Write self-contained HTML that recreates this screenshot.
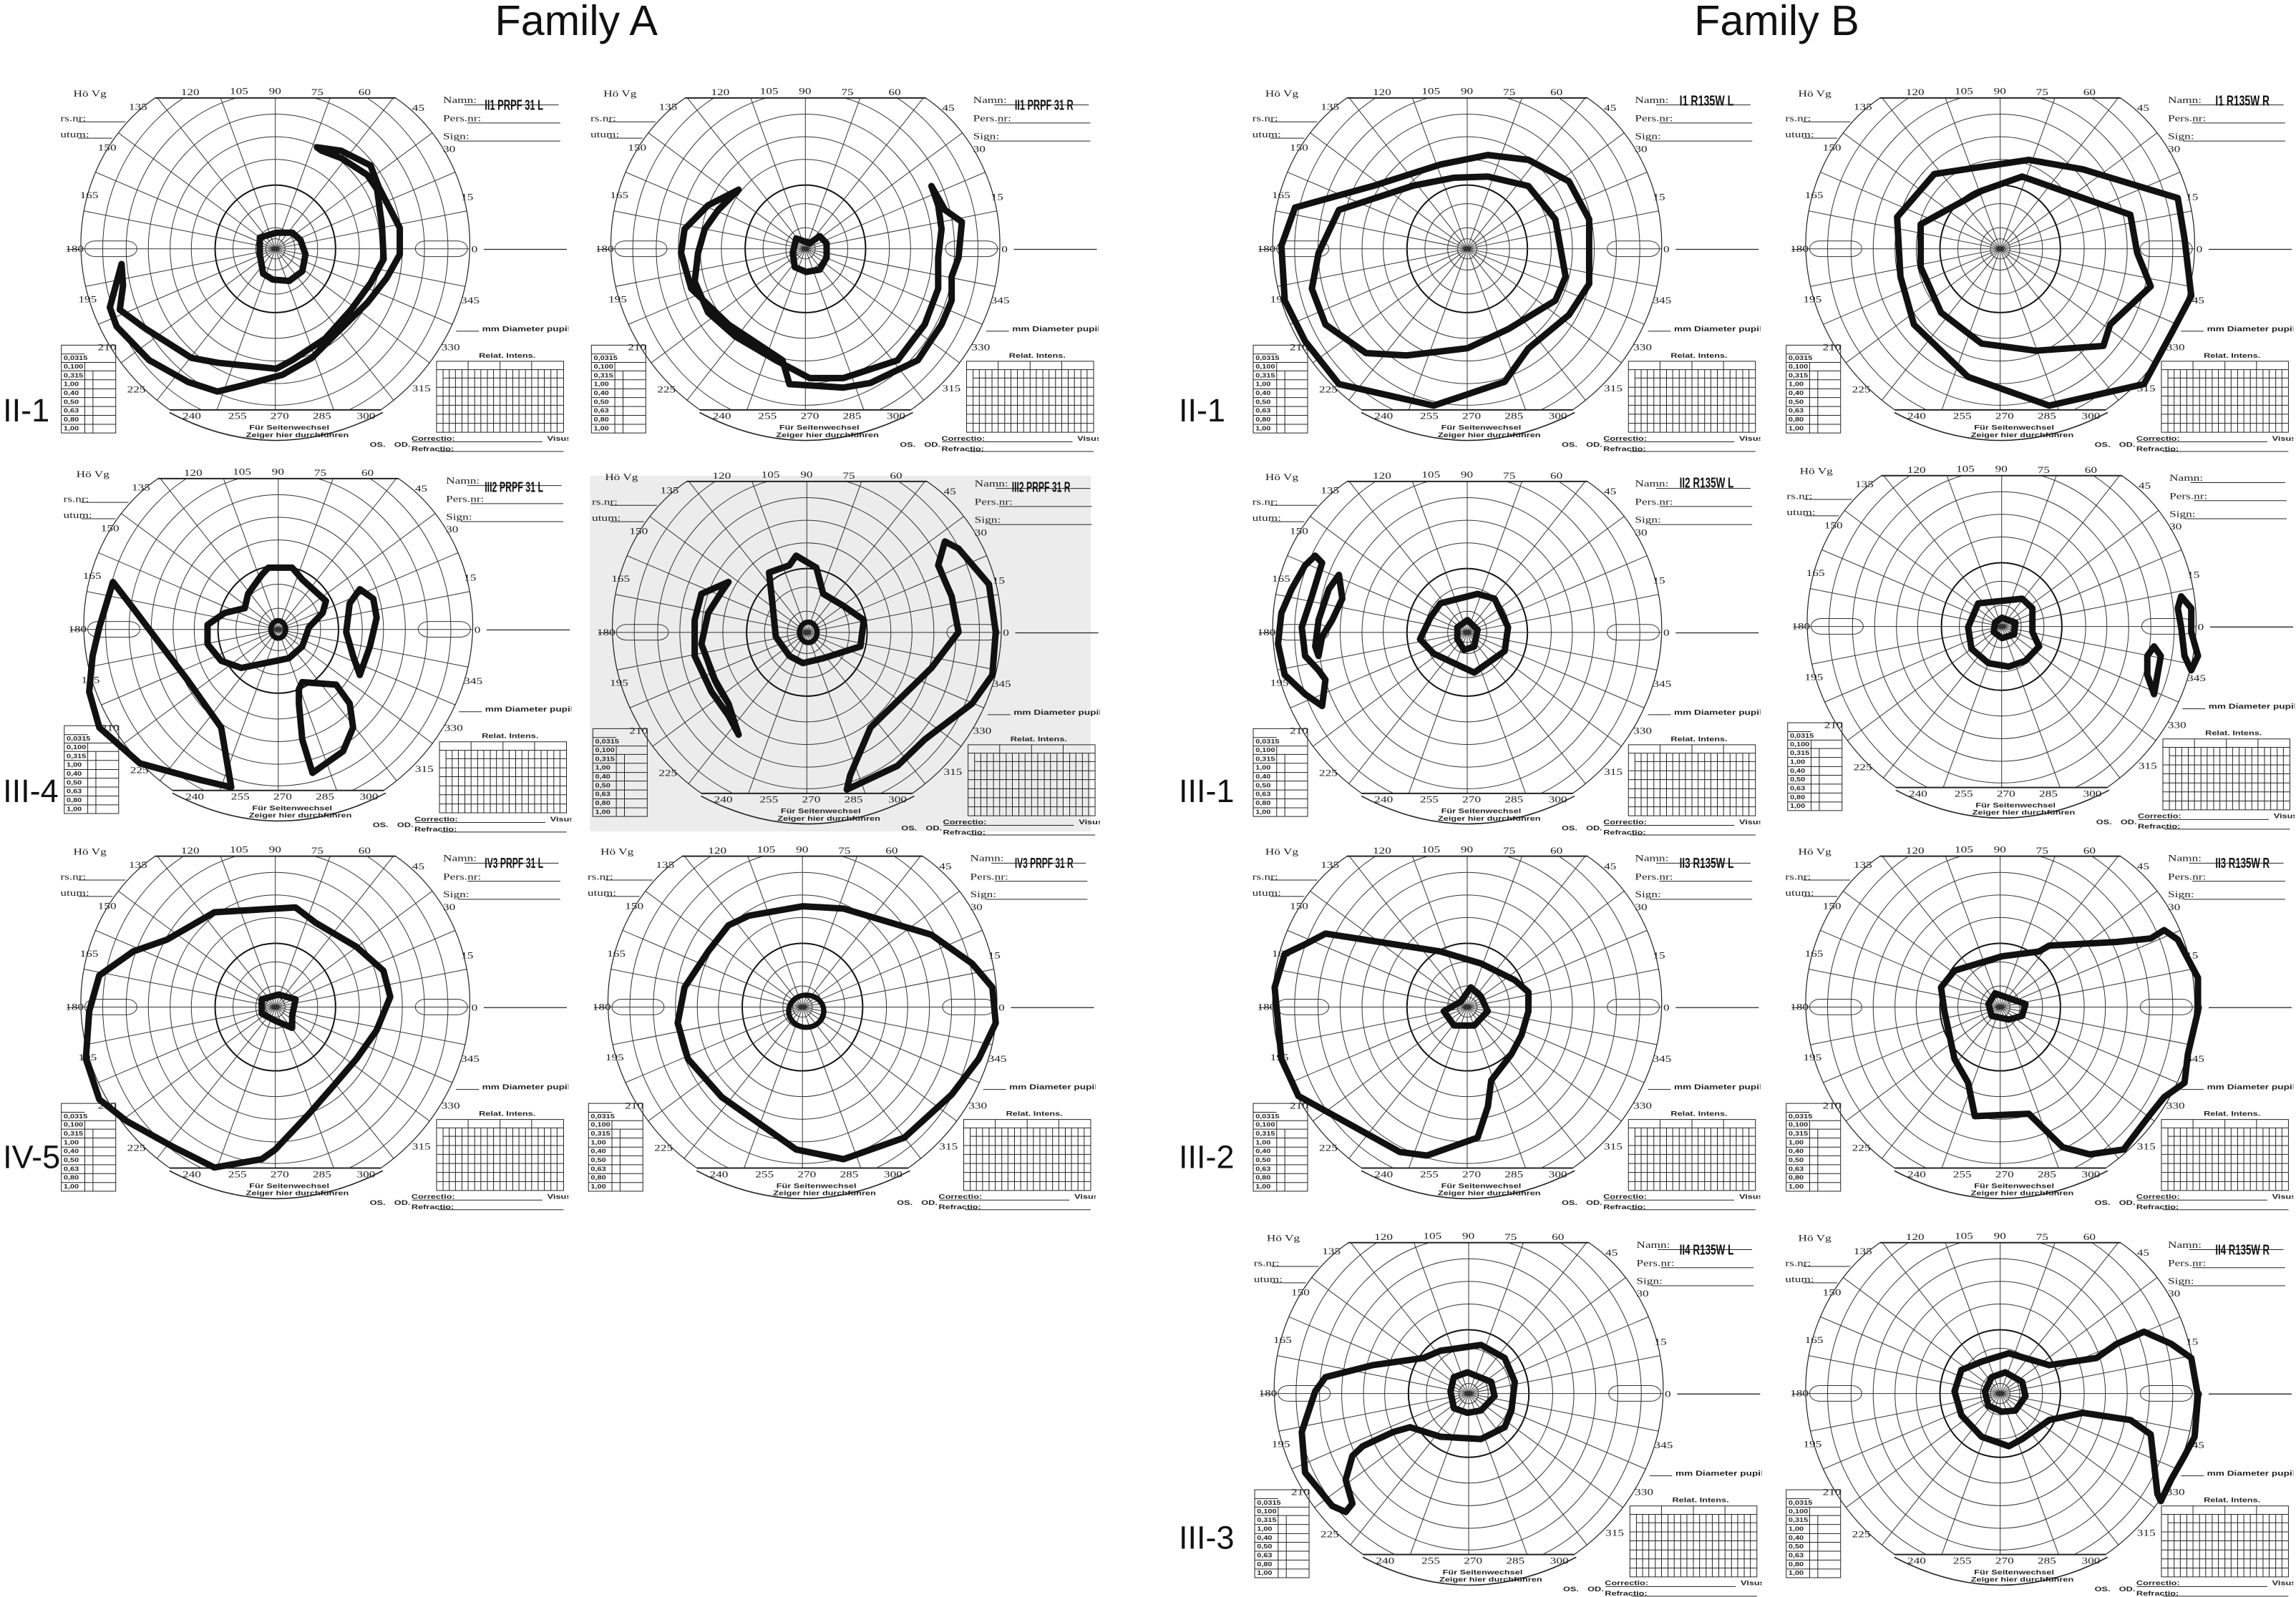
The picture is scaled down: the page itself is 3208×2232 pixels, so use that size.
<!DOCTYPE html>
<html><head><meta charset="utf-8">
<style>
html,body{margin:0;padding:0;background:#fff;}
svg{display:block;}
#g *{vector-effect:non-scaling-stroke;}
.t{font-family:"Liberation Serif",serif;fill:#222;}
.s{font-family:"Liberation Sans",sans-serif;fill:#222;}
.c{fill:none;stroke:#111;stroke-width:4.4;stroke-linejoin:round;stroke-linecap:round;}
.r{fill:none;stroke:#111;stroke-width:3.6;}
.lab{font-family:"Liberation Sans",sans-serif;font-size:22px;fill:#111;}
.fam{font-family:"Liberation Sans",sans-serif;font-size:29px;fill:#111;}
</style></head><body>
<svg width="3208" height="2232" viewBox="0 0 1568 1091" xmlns="http://www.w3.org/2000/svg">
<defs>
<clipPath id="cl"><path d="M291,61 L1029,61 C1180,200 1262,450 1257,688 C1252,950 1150,1200 984,1357 L336,1357 C170,1200 68,950 63,688 C58,450 140,200 291,61 Z"/></clipPath>
<g id="g">
 <g clip-path="url(#cl)" fill="none" stroke="#333" stroke-width="1">
  <ellipse cx="660" cy="688" rx="30" ry="42"/>
  <ellipse cx="660" cy="688" rx="60" ry="88"/>
  <ellipse cx="660" cy="688" rx="130" ry="188"/>
  <ellipse cx="660" cy="688" rx="258" ry="372"/>
  <ellipse cx="660" cy="688" rx="323" ry="466"/>
  <ellipse cx="660" cy="688" rx="390" ry="560"/>
  <ellipse cx="660" cy="688" rx="458" ry="650"/>
  <ellipse cx="660" cy="688" rx="530" ry="740"/>
  <ellipse cx="660" cy="688" rx="185" ry="265" stroke="#111" stroke-width="2"/>
  <path d="M660,688 L1660,688 M660,688 L1626,429 M660,688 L1526,188 M660,688 L1367,-19 M660,688 L1160,-178 M660,688 L919,-278 M660,688 L660,-312 M660,688 L401,-278 M660,688 L160,-178 M660,688 L-47,-19 M660,688 L-206,188 M660,688 L-306,429 M660,688 L-340,688 M660,688 L-306,947 M660,688 L-206,1188 M660,688 L-47,1395 M660,688 L160,1554 M660,688 L401,1654 M660,688 L660,1688 M660,688 L919,1654 M660,688 L1160,1554 M660,688 L1367,1395 M660,688 L1526,1188 M660,688 L1626,947"/>
 </g>
 <path d="M291,61 L1029,61 C1180,200 1262,450 1257,688 C1252,950 1150,1200 984,1357 L336,1357 C170,1200 68,950 63,688 C58,450 140,200 291,61 Z" fill="none" stroke="#222" stroke-width="1.2"/>
 <path d="M291,61 L1029,61 M336,1357 L984,1357" stroke="#222" stroke-width="2"/>
 <rect x="75" y="655" width="160" height="65" rx="32" fill="none" stroke="#333" stroke-width="1"/>
 <rect x="1090" y="655" width="160" height="65" rx="32" fill="none" stroke="#333" stroke-width="1"/>
 <line x1="20" y1="690" x2="60" y2="690" stroke="#222" stroke-width="1"/>
 <line x1="1300" y1="690" x2="1555" y2="690" stroke="#222" stroke-width="1.3"/>
 <g class="t" font-size="38">
  <text x="15" y="700">180</text><text x="1262" y="702">0</text>
  <text x="370" y="50">120</text><text x="520" y="45">105</text><text x="640" y="45">90</text><text x="770" y="50">75</text><text x="915" y="50">60</text>
  <text x="210" y="110">135</text><text x="1080" y="115">45</text>
  <text x="115" y="280">150</text><text x="1175" y="285">30</text>
  <text x="60" y="478">165</text><text x="1230" y="485">15</text>
  <text x="55" y="910">195</text><text x="1230" y="915">345</text>
  <text x="115" y="1110">210</text><text x="1170" y="1110">330</text>
  <text x="205" y="1285">225</text><text x="1080" y="1280">315</text>
  <text x="375" y="1395">240</text><text x="515" y="1395">255</text><text x="645" y="1395">270</text><text x="775" y="1395">285</text><text x="910" y="1395">300</text>
  <text x="40" y="55">Hö   Vg</text>
  <text x="0" y="158">rs.nr:</text><text x="0" y="225">utum:</text>
  <text x="1175" y="82">Namn:</text><text x="1175" y="158">Pers.nr:</text><text x="1175" y="232">Sign:</text>
 </g>
 <g stroke="#222" stroke-width="1">
  <line x1="55" y1="160" x2="200" y2="160"/><line x1="55" y1="228" x2="160" y2="228"/>
  <line x1="1240" y1="90" x2="1530" y2="90"/><line x1="1250" y1="165" x2="1535" y2="165"/><line x1="1222" y1="240" x2="1535" y2="240"/>
  <line x1="1215" y1="1030" x2="1285" y2="1030"/>
 </g>
 <text class="s" x="1295" y="1030" font-size="30" font-weight="bold">mm    Diameter pupillae</text>
 <g fill="none" stroke="#222" stroke-width="1">
  <rect x="3" y="1088" width="167" height="365"/>
  <path d="M3,1125H75M3,1160H170M3,1195H170M3,1232H170M3,1270H170M3,1306H170M3,1343H170M3,1380H170M3,1417H170M75,1160V1453M100,1195V1453"/>
  <rect x="1155" y="1155" width="390" height="295"/>
  <path d="M1155,1190H1545M1175,1225H1545M1155,1263H1545M1155,1300H1545M1155,1338H1545M1155,1375H1545M1155,1413H1545M1175,1190V1450M1252,1155V1450M1350,1155V1450M1447,1155V1450M1194,1190V1450M1213,1190V1450M1233,1190V1450M1272,1190V1450M1291,1190V1450M1311,1190V1450M1330,1190V1450M1369,1190V1450M1389,1190V1450M1408,1190V1450M1428,1190V1450M1467,1190V1450M1486,1190V1450M1506,1190V1450M1525,1190V1450"/>
  <path d="M335,1368 Q660,1600 990,1368" stroke-width="1.6"/>
  <path d="M1080,1490H1480M1160,1530H1545"/>
 </g>
 <g class="s" font-size="28" font-weight="bold">
  <text x="1285" y="1140">Relat. Intens.</text>
  <text x="580" y="1440">Für Seitenwechsel</text>
  <text x="570" y="1470">Zeiger hier durchführen</text>
  <text x="1078" y="1485">Correctio:</text>
  <text x="1078" y="1528">Refractio:</text>
  <text x="950" y="1510">OS.</text><text x="1025" y="1510">OD.</text>
  <text x="1495" y="1485">Visus</text>
  <text x="10" y="1150" font-size="24">0,0315</text><text x="10" y="1185" font-size="24">0,100</text>
  <text x="10" y="1222" font-size="24">0,315</text><text x="10" y="1258" font-size="24">1,00</text>
  <text x="10" y="1295" font-size="24">0,40</text><text x="10" y="1332" font-size="24">0,50</text>
  <text x="10" y="1368" font-size="24">0,63</text><text x="10" y="1405" font-size="24">0,80</text>
  <text x="10" y="1442" font-size="24">1,00</text>
 </g>
</g>
</defs>

<text class="fam" x="338" y="24">Family A</text>
<text class="fam" x="1157" y="24">Family B</text>

<rect x="403" y="325" width="342" height="243" fill="#ececec"/>

<svg x="41.2" y="56.9" width="347" height="254" viewBox="0 0 1560 1545" preserveAspectRatio="none"><use href="#g"/></svg>
<svg x="403.2" y="56.9" width="347" height="254" viewBox="0 0 1560 1545" preserveAspectRatio="none"><use href="#g"/></svg>
<svg x="43.2" y="316.9" width="347" height="254" viewBox="0 0 1560 1545" preserveAspectRatio="none"><use href="#g"/></svg>
<svg x="404.2" y="318.9" width="347" height="254" viewBox="0 0 1560 1545" preserveAspectRatio="none"><use href="#g"/></svg>
<svg x="41.2" y="574.9" width="347" height="254" viewBox="0 0 1560 1545" preserveAspectRatio="none"><use href="#g"/></svg>
<svg x="401.2" y="574.9" width="347" height="254" viewBox="0 0 1560 1545" preserveAspectRatio="none"><use href="#g"/></svg>
<svg x="855.2" y="56.9" width="347" height="254" viewBox="0 0 1560 1545" preserveAspectRatio="none"><use href="#g"/></svg>
<svg x="1219.2" y="56.9" width="347" height="254" viewBox="0 0 1560 1545" preserveAspectRatio="none"><use href="#g"/></svg>
<svg x="855.2" y="318.9" width="347" height="254" viewBox="0 0 1560 1545" preserveAspectRatio="none"><use href="#g"/></svg>
<svg x="1220.2" y="314.9" width="347" height="254" viewBox="0 0 1560 1545" preserveAspectRatio="none"><use href="#g"/></svg>
<svg x="855.2" y="574.9" width="347" height="254" viewBox="0 0 1560 1545" preserveAspectRatio="none"><use href="#g"/></svg>
<svg x="1219.2" y="574.9" width="347" height="254" viewBox="0 0 1560 1545" preserveAspectRatio="none"><use href="#g"/></svg>
<svg x="856.2" y="838.9" width="347" height="254" viewBox="0 0 1560 1545" preserveAspectRatio="none"><use href="#g"/></svg>
<svg x="1219.2" y="838.9" width="347" height="254" viewBox="0 0 1560 1545" preserveAspectRatio="none"><use href="#g"/></svg>

<g font-family="Liberation Sans, sans-serif" font-weight="bold" font-size="10" fill="#111">
<text x="331" y="75" textLength="40" lengthAdjust="spacingAndGlyphs">II1 PRPF 31 L</text>
<text x="693" y="75" textLength="40" lengthAdjust="spacingAndGlyphs">II1 PRPF 31 R</text>
<text x="331" y="336" textLength="40" lengthAdjust="spacingAndGlyphs">III2 PRPF 31 L</text>
<text x="691" y="336" textLength="40" lengthAdjust="spacingAndGlyphs">III2 PRPF 31 R</text>
<text x="331" y="593" textLength="40" lengthAdjust="spacingAndGlyphs">IV3 PRPF 31 L</text>
<text x="693" y="593" textLength="40" lengthAdjust="spacingAndGlyphs">IV3 PRPF 31 R</text>
<text x="1147" y="72" textLength="37" lengthAdjust="spacingAndGlyphs">I1 R135W L</text>
<text x="1513" y="72" textLength="37" lengthAdjust="spacingAndGlyphs">I1 R135W R</text>
<text x="1147" y="333" textLength="37" lengthAdjust="spacingAndGlyphs">II2 R135W L</text>
<text x="1147" y="593" textLength="37" lengthAdjust="spacingAndGlyphs">II3 R135W L</text>
<text x="1513" y="593" textLength="37" lengthAdjust="spacingAndGlyphs">II3 R135W R</text>
<text x="1147" y="857" textLength="37" lengthAdjust="spacingAndGlyphs">II4 R135W L</text>
<text x="1513" y="857" textLength="37" lengthAdjust="spacingAndGlyphs">II4 R135W R</text>
</g>

<g class="lab">
<text x="2" y="288">II-1</text>
<text x="2" y="548">III-4</text>
<text x="2" y="798">IV-5</text>
<text x="805" y="288">II-1</text>
<text x="805" y="548">III-1</text>
<text x="805" y="798">III-2</text>
<text x="805" y="1058">III-3</text>
</g>

<!-- A1 -->
<path class="c" d="M216.4,100.6 L233,103 L253,113 L258.6,127.7 L273,155.7 L273,173.8 L264,190 L251,206.7 L231,226.4 L213,244.5 L193,256 L168.5,262.6 L148.5,267.5 L128.5,261 L101.8,246 L79.6,223 L75,210 L83,180.4 L84,195 L81.8,211.6 L99.6,224.7 L130.7,244.5 L148.5,247.8 L188.6,251.9 L199.7,246 L222,231.3 L239.7,211.6 L253,193.5 L262,177 L260.8,154 L257.5,129.4 L250.8,119.5 L233,108 L219.7,103 Z"/>
<path class="c" d="M177.4,162.3 L188.6,159 L199.7,159 L205.2,164 L208.6,173.8 L206.4,185.3 L197.5,191.9 L186.3,191 L179.7,187 L177.4,173.8 Z"/>
<!-- A2 -->
<path class="c" d="M504.4,129.6 L483.6,140.2 L467.5,156.5 L465.1,172.8 L472.1,197.2 L497.5,221.7 L534.4,246.1 L539.1,262.4 L576,264.8 L594.5,261.6 L626.8,246.1 L643,221.7 L649.9,205.3 L649.9,189 L654.6,176 L656.9,151.6 L645.3,143.4 L636.1,127.1 L640.7,140.2 L643,156.5 L640.7,176 L640.7,197.2 L631.5,221.7 L613,246.1 L576,258.3 L552.9,258.3 L529.8,246.1 L502.1,229.8 L483.6,213.5 L474.4,192.3 L476.7,172.8 L481.3,156.5 L490.5,143.4 Z"/>
<path class="c" d="M543.7,162.9 L552.9,166.2 L559.8,161.3 L564.5,166.2 L564.5,176 L559.8,184.2 L550.6,185.8 L542.8,182.5 L541.4,172.8 Z"/>
<!-- A3 -->
<path class="c" d="M183.3,387.8 L199.5,387.8 L206.4,395.9 L222.6,410.6 L220.3,418.8 L211,428.5 L206.4,441.6 L197.2,449.7 L164.8,456.3 L151,451.4 L141.7,440 L141.7,426.9 L153.3,418.8 L167.1,415.5 L169.4,405.7 L178.7,392.7 Z"/>
<ellipse class="r" cx="190" cy="430" rx="5" ry="6"/>
<path class="c" d="M245.7,402.5 L254.9,409 L257.2,422 L252.6,441.6 L245.7,461.1 L241.1,448.1 L236.4,431.8 L238.8,412.2 Z"/>
<path class="c" d="M206.4,466 L229.5,467.7 L238.8,480.7 L241.1,497 L234.2,513.3 L213.4,528 L206.4,505.2 L204.1,480.7 L204.1,470.9 Z"/>
<path class="c" d="M77.1,397.6 L90.9,415.5 L109.4,440 L127.9,464.4 L151,497 L157.9,537.8 L137.1,532.9 L95.5,521.5 L67.8,497 L60.9,472.6 L63.2,448.1 L67.8,428.5 Z"/>
<!-- A4 -->
<path class="c" d="M543.7,379.6 L557.5,387.8 L562.2,405.7 L576,413.9 L589.9,423.6 L587.6,441.6 L562.2,449.7 L548.3,453 L539.1,448.1 L529.8,435 L527.5,412.2 L525.2,391.1 L539.1,386.2 Z"/>
<ellipse class="r" cx="552" cy="432" rx="6" ry="7"/>
<path class="c" d="M497.5,397.6 L492.9,404.1 L483.6,418.8 L479,440 L488.2,464.4 L497.5,480.7 L504.4,501.9 L497.5,488.9 L485.9,472.6 L474.4,448.1 L474.4,423.6 L479,405.7 Z"/>
<path class="c" d="M645.3,369.9 L654.6,374.8 L675.4,399.2 L680,431.8 L677.7,461.1 L663.8,480.7 L631.5,505.2 L613,523.1 L578.3,539.4 L580.6,529.6 L594.5,497 L636.1,456.3 L654.6,431.8 L649.9,407.4 L640.7,386.2 Z"/>
<!-- A5 -->
<path class="c" d="M146.4,623.2 L201.8,619.9 L215.7,630.5 L243.4,646.8 L261.8,663.1 L266.5,681 L257.2,703.8 L243.4,723.4 L229.5,739.7 L211,760.9 L188,785.3 L178.7,791.9 L146.4,797.6 L118.6,783.7 L86.3,765.8 L67.8,751.1 L58.6,723.4 L60.9,690.8 L67.8,666.3 L90.9,650 L114,641.9 Z"/>
<path class="c" d="M178.7,682.7 L190.3,679.4 L201.8,682.7 L199.5,694 L199.5,702.2 L188,697.3 L178.7,692.4 Z"/>
<!-- A6 -->
<path class="c" d="M511.3,625.6 L548.3,619.1 L576,620.7 L636.1,638.6 L663.8,658.2 L677.7,674.5 L680,698.9 L668.4,723.4 L649.9,747.8 L617.6,777.2 L576,791.9 L543.7,785.3 L525.2,772.3 L492.9,749.5 L469.8,723.4 L462.8,698.9 L467.5,674.5 L483.6,650 L497.5,632.1 Z"/>
<ellipse class="r" cx="550.6" cy="690.8" rx="12" ry="11"/>
<!-- B1 -->
<path class="c" d="M884.4,141.8 L937.5,127.1 L983.7,112.4 L1016,105.9 L1043.8,109.2 L1071.5,123.9 L1085.3,149.9 L1085.3,193.9 L1071.5,215.1 L1043.8,238 L1027.6,260.8 L979.1,277.1 L914.4,262.4 L891.3,233.1 L877.4,205.3 L875.1,167.9 Z"/>
<path class="c" d="M914.4,143.4 L965.2,126.8 L992.9,121.4 L1016,120.6 L1043.8,127.1 L1062.2,149.9 L1069.2,189 L1062.2,205.3 L1029.9,224.9 L1002.2,237.9 L960.6,242.8 L932.9,241.2 L905.2,221.7 L895.9,197.2 L900.5,172.8 Z"/>
<!-- B2 -->
<path class="c" d="M1321,118.9 L1353.3,114 L1385.6,109.2 L1422.6,115.7 L1487.3,135.3 L1491.9,163 L1496.5,202.1 L1482.7,228.2 L1464.2,262.4 L1399.5,277.1 L1344.1,257.5 L1307.1,221.7 L1297.9,189 L1295.6,148.3 Z"/>
<path class="c" d="M1311.7,153.2 L1353.3,130.4 L1381,120.6 L1418,133.6 L1454.9,146.7 L1459.6,172.8 L1468.8,195.6 L1441.1,221.7 L1436.5,236.3 L1390.3,239.6 L1353.3,234.7 L1325.6,213.5 L1311.7,182.5 Z"/>
<!-- B3 -->
<path class="c" d="M983.7,412.2 L1009.1,405.7 L1020.7,409 L1029.9,428.5 L1027.6,444.8 L1006.8,459.5 L992.9,453 L979.1,446.5 L969.8,436.7 L976.8,422 Z"/>
<path class="c" d="M1002.2,423.6 L1009.1,430.2 L1006.8,441.6 L999.9,444 L995.3,436.7 L995.3,428.5 Z"/>
<path class="c" d="M898.2,379.6 L902.9,384.5 L895.9,407.4 L889,428.5 L891.3,448.1 L900.5,457.9 L905.2,464.4 L902.9,482.3 L891.3,474.2 L877.4,461.1 L872.8,439.9 L875.1,418.8 L882.1,402.5 L891.3,386.2 Z"/>
<path class="c" d="M914.4,392.7 L916.7,409 L909.8,423.6 L902.9,435 L900.5,448.1 L898.2,441.6 L900.5,423.6 L907.5,402.5 Z"/>
<!-- B4 -->
<path class="c" d="M1351,412.2 L1381,409 L1388,415.5 L1388,431.8 L1392.6,441.6 L1383.3,451.4 L1371.9,455.4 L1357.9,453 L1346.4,443.2 L1344.1,428.5 Z"/>
<path class="c" d="M1367.2,422 L1376.4,425.3 L1375.5,433.4 L1367.2,435.9 L1361.6,431.8 L1362.5,425.3 Z"/>
<path class="c" d="M1489.6,407.4 L1496.5,415.5 L1496.5,431.8 L1501.1,448.1 L1496.5,457.9 L1491.9,448.1 L1489.6,428.5 L1487.3,415.5 Z"/>
<path class="c" d="M1471.1,441.6 L1475.7,448.1 L1473.4,461.1 L1471.1,474.2 L1466.5,461.1 L1466.5,448.1 Z"/>
<!-- B5 -->
<path class="c" d="M905.2,637.8 L983.7,650 L1011.4,658.2 L1034.5,669.6 L1043.8,677.8 L1043.8,690.8 L1039.1,707.1 L1032.2,720.1 L1018.4,738.1 L1016.1,756 L1009.1,777.2 L974.5,789.4 L956,787 L886.7,748.7 L875.1,723.4 L870.5,674.5 L877.4,651.7 L891.3,645.1 Z"/>
<path class="c" d="M1004.5,674.5 L1011.4,681 L1016,690.8 L1006.8,700.6 L993,700.6 L986,690.8 L997.6,684.3 Z"/>
<!-- B6 -->
<path class="c" d="M1478,635.4 L1487.3,641.9 L1501.1,668 L1501.1,690.8 L1494.2,720.1 L1491.9,739.7 L1478,749.5 L1468.8,760.9 L1450.3,785.3 L1427.2,788.6 L1408.7,783.7 L1385.6,760.9 L1348.7,762.5 L1344.1,739.7 L1334.8,723.4 L1327.9,690.8 L1325.6,674.5 L1334.8,663.1 L1367.2,653.3 L1392.6,650 L1399.5,646 L1445.7,643.5 L1468.8,641.1 Z"/>
<path class="c" d="M1362.5,678.6 L1383.3,685.9 L1381,694 L1371.9,696.5 L1360.2,694 L1358,685.9 Z"/>
<!-- B7 -->
<path class="c" d="M1011.4,918.8 L1027.6,927.7 L1034.5,944 L1032.2,963.6 L1027.6,975 L1011.4,983.1 L983.7,981.5 L962.9,975 L951.4,978.3 L930.6,988 L923.6,994.6 L919,1010.9 L923.6,1027.2 L919,1032.9 L909.8,1028.8 L891.3,1006 L889,978.3 L898.2,950.5 L905.2,940.8 L937.5,932.6 L972.2,927.7 L983.7,922.8 Z"/>
<path class="c" d="M1002.2,937.5 L1018.4,944 L1020.7,953.8 L1011.4,963.6 L1002.2,965.2 L992.9,962 L990.6,950.5 L992.9,940.8 Z"/>
<!-- B8 -->
<path class="c" d="M1464.2,909.8 L1482.7,918 L1496.5,927.7 L1501.1,953.8 L1498.8,981.5 L1491.9,994.6 L1482.7,1010.9 L1475.7,1025.5 L1473.4,1020.6 L1468.8,979.9 L1455,970.1 L1422.6,965.2 L1399.5,970.1 L1381,983.1 L1371.9,988 L1353.3,981.5 L1339.5,966.8 L1334.8,950.5 L1339.5,935.9 L1353.3,930.2 L1371.9,924.5 L1399.5,932.6 L1431.8,927.7 L1445.7,918 Z"/>
<path class="c" d="M1369.5,937.5 L1381,944 L1383.3,953.8 L1376.4,963.6 L1367.2,964.4 L1357.9,960.3 L1355.6,950.5 L1360.2,940.8 Z"/>
</svg>
</body></html>
